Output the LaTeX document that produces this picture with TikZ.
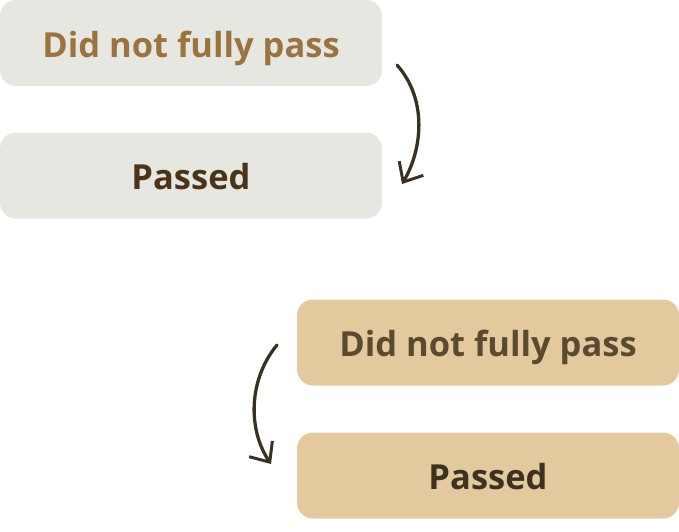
\documentclass[tikz,border=0pt]{standalone}
\usepackage{fontspec}
\setmainfont{Open Sans}
\usetikzlibrary{arrows.meta}
\definecolor{greybox}{HTML}{E7E7E1}
\definecolor{tanbox}{HTML}{E3C99E}
\definecolor{goldtext}{HTML}{9A733F}
\definecolor{darkbrown}{HTML}{4A3418}
\definecolor{olivetext}{HTML}{594A30}
\definecolor{darkolive}{HTML}{3D3220}
\definecolor{arrowcol}{HTML}{3A3220}
\tikzset{
  card/.style={rounded corners=16pt, minimum width=382pt, minimum height=86pt, inner sep=0pt,
    text height=28pt, text depth=0pt,
    font=\fontsize{34.5}{40}\selectfont\bfseries},
  curvearrow/.style={draw=arrowcol, line width=3.3pt, line cap=round,
    -{Straight Barb[length=16pt,width=28pt,line width=3pt]}}
}
\begin{document}
\begin{tikzpicture}[x=1pt,y=-1pt]
\useasboundingbox (0,0) rectangle (679,531);
\node[card, fill=greybox, text=goldtext] (a1) at (191,43) {Did not fully pass};
\node[card, fill=greybox, text=darkbrown] (a2) at (191,175.5) {Passed};
\node[card, fill=tanbox, text=olivetext] (b1) at (488,342.5) {Did not fully pass};
\node[card, fill=tanbox, text=darkolive] (b2) at (488,475.5) {Passed};
\coordinate (s1) at (397,65);
\coordinate (e1) at (402,184);
\coordinate (s2) at (277,345);
\coordinate (e2) at (271,464);
\draw[curvearrow] (s1) .. controls (428,100) and (422,150) .. (e1);
\draw[curvearrow] (s2) .. controls (248,380) and (248,430) .. (e2);
\end{tikzpicture}
\end{document}
